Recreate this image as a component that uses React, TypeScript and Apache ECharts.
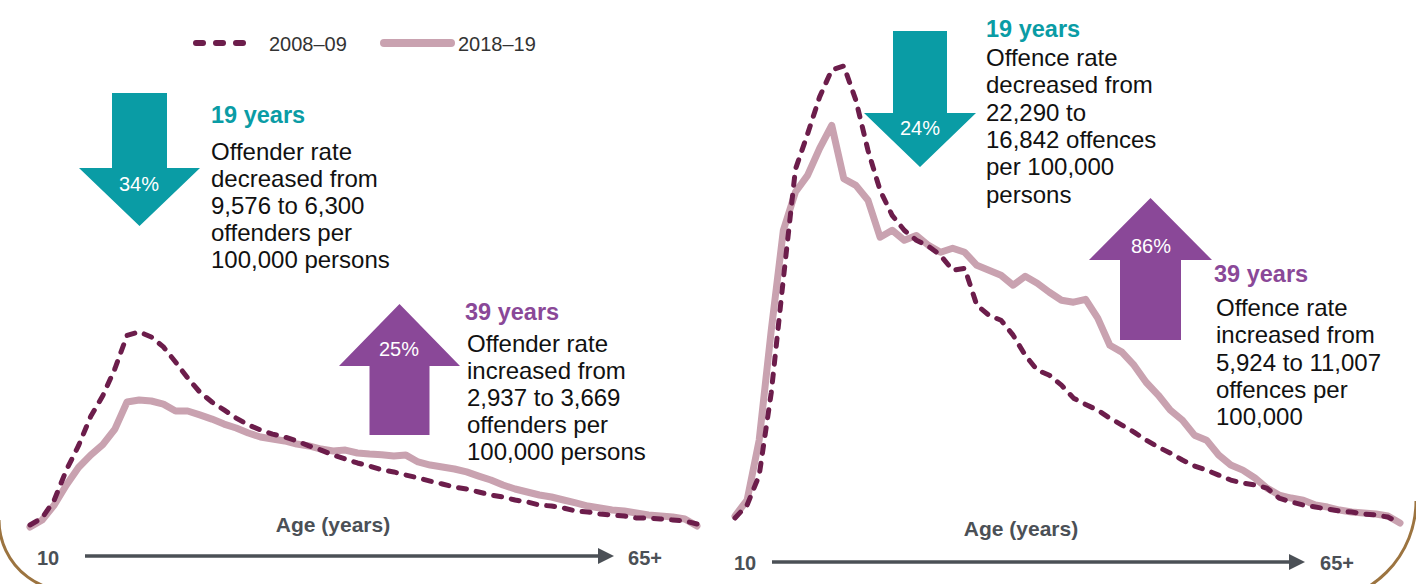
import { useEffect, useRef } from 'react';
import * as echarts from 'echarts';

// ---------- data ----------
const ages = [
  '10', '11', '12', '13', '14', '15', '16', '17', '18', '19',
  '20', '21', '22', '23', '24', '25', '26', '27', '28', '29',
  '30', '31', '32', '33', '34', '35', '36', '37', '38', '39',
  '40', '41', '42', '43', '44', '45', '46', '47', '48', '49',
  '50', '51', '52', '53', '54', '55', '56', '57', '58', '59',
  '60', '61', '62', '63', '64', '65+',
];

// Offender rate per 100,000 persons
const offenderRate2008 = [
  290, 625, 1490, 2930, 4100, 5500, 6500, 7800, 9400, 9576,
  9330, 8850, 8125, 7355, 6680, 6200, 5820, 5430, 5100, 4855,
  4660, 4520, 4330, 4090, 3890, 3650, 3460, 3270, 3125, 2937,
  2840, 2690, 2550, 2400, 2260, 2115, 2020, 1875, 1730, 1635,
  1490, 1395, 1250, 1200, 1105, 960, 915, 817, 770, 720,
  625, 625, 577, 530, 480, 336,
];
const offenderRate2018 = [
  190, 530, 1250, 2210, 3050, 3650, 4150, 4900, 6200, 6300,
  6250, 6100, 5770, 5770, 5580, 5380, 5140, 4950, 4710, 4520,
  4420, 4330, 4180, 4090, 3940, 3850, 3890, 3750, 3700, 3669,
  3610, 3650, 3320, 3170, 3080, 2980, 2840, 2640, 2450, 2210,
  2020, 1875, 1730, 1635, 1490, 1350, 1200, 1105, 1010, 960,
  865, 770, 720, 675, 577, 240,
];

// Offence rate per 100,000 persons
const offenceRate2008 = [
  435, 1060, 2500, 6500, 12000, 17300, 19000, 20800, 22100, 22290,
  20630, 18210, 16280, 15070, 14350, 13865, 13575, 13140, 12415, 12510,
  10725, 10240, 10000, 9275, 8310, 7585, 7340, 6860, 6230, 5924,
  5650, 5265, 4930, 4590, 4200, 3865, 3575, 3240, 2950, 2750,
  2510, 2270, 2125, 2030, 1880, 1400, 1210, 1060, 965, 870,
  770, 725, 630, 580, 480, 190,
];
const offenceRate2018 = [
  530, 1300, 4200, 9520, 14350, 16200, 17000, 18310, 19420, 16842,
  16520, 15800, 14010, 14350, 13865, 14100, 13620, 13285, 13480, 13285,
  12655, 12415, 12175, 11690, 12125, 11790, 11350, 10965, 10870, 11007,
  10100, 8790, 8455, 7825, 7000, 6380, 5650, 5170, 4440, 4200,
  3480, 3000, 2750, 2370, 1880, 1545, 1400, 1300, 1060, 965,
  820, 725, 675, 630, 530, 190,
];

const seriesNames = ['2008–09', '2018–19'];
const axisEndLabels = ['10', '65+'];
const axisTitle = 'Age (years)';
const percentLabels = ['34%', '25%', '24%', '86%'];
const headlineLabels = ['19 years', '39 years', '19 years', '39 years'];
const bodyTexts = [
  'Offender rate\ndecreased from\n9,576 to 6,300\noffenders per\n100,000 persons',
  'Offender rate\nincreased from\n2,937 to 3,669\noffenders per\n100,000 persons',
  'Offence rate\ndecreased from\n22,290 to\n16,842 offences\nper 100,000\npersons',
  'Offence rate\nincreased from\n5,924 to 11,007\noffences per\n100,000',
];

// ---------- style ----------
const FONT = "'Liberation Sans', Arial, Helvetica, sans-serif";
const MAROON = '#6c1d4b';
const PINK = '#c9a2b0';
const TEAL = '#0a9ca5';
const PURPLE = '#8a4898';
const GREY = '#4b5056';
const BROWN = '#9c7440';

function txt(text: string, x: number, y: number, size: number, color: string, opts: any = {}) {
  return {
    type: 'text',
    x,
    y,
    silent: true,
    style: {
      text,
      fill: color,
      font: `${opts.bold ? 'bold ' : ''}${size}px ${FONT}`,
      align: opts.align || 'left',
      verticalAlign: opts.valign || 'middle',
      lineHeight: opts.lineHeight || size * 1.2,
    },
  };
}

function downArrow(cx: number, top: number, shaftHalf: number, neckY: number, headHalf: number, tipY: number, color: string) {
  return {
    type: 'polygon',
    silent: true,
    shape: {
      points: [
        [cx - shaftHalf, top], [cx + shaftHalf, top], [cx + shaftHalf, neckY],
        [cx + headHalf, neckY], [cx, tipY], [cx - headHalf, neckY], [cx - shaftHalf, neckY],
      ],
    },
    style: { fill: color },
  };
}

function upArrow(cx: number, tipY: number, neckY: number, headHalf: number, shaftHalf: number, bottom: number, color: string) {
  return {
    type: 'polygon',
    silent: true,
    shape: {
      points: [
        [cx, tipY], [cx + headHalf, neckY], [cx + shaftHalf, neckY], [cx + shaftHalf, bottom],
        [cx - shaftHalf, bottom], [cx - shaftHalf, neckY], [cx - headHalf, neckY],
      ],
    },
    style: { fill: color },
  };
}

function axisArrow(x1: number, x2: number, y: number) {
  return [
    { type: 'line', silent: true, shape: { x1, y1: y, x2: x2 - 10, y2: y }, style: { stroke: GREY, lineWidth: 3.5 } },
    { type: 'polygon', silent: true, shape: { points: [[x2 - 16, y - 8], [x2, y], [x2 - 16, y + 8]] }, style: { fill: GREY } },
  ];
}

function legendDash(x1: number, x2: number) {
  return { type: 'line', silent: true, shape: { x1, y1: 43, x2, y2: 43 }, style: { stroke: MAROON, lineWidth: 6, lineCap: 'round' } };
}

export default function App() {
  const ref = useRef<HTMLDivElement>(null);

  useEffect(() => {
    document.body.style.margin = '0';
    const chart = echarts.init(ref.current!, null, { renderer: 'svg' });

    const solidStyle = { color: PINK, width: 7, cap: 'round', join: 'round' };
    const dashStyle = { color: MAROON, width: 5, type: [8, 10], cap: 'round', join: 'round' };

    const option: any = {
      animation: false,
      backgroundColor: '#ffffff',
      grid: [
        { left: 30, top: 323, width: 667, height: 208 },
        { left: 735, top: 10, width: 665, height: 517 },
      ],
      xAxis: [
        { gridIndex: 0, type: 'category', data: ages, boundaryGap: false, show: false },
        { gridIndex: 1, type: 'category', data: ages, boundaryGap: false, show: false },
      ],
      yAxis: [
        { gridIndex: 0, type: 'value', min: 0, max: 10000, show: false, splitLine: { show: false } },
        { gridIndex: 1, type: 'value', min: 0, max: 25000, show: false, splitLine: { show: false } },
      ],
      series: [
        { name: seriesNames[1], type: 'line', xAxisIndex: 0, yAxisIndex: 0, data: offenderRate2018, symbol: 'none', lineStyle: solidStyle, silent: true, clip: false, z: 2 },
        { name: seriesNames[0], type: 'line', xAxisIndex: 0, yAxisIndex: 0, data: offenderRate2008, symbol: 'none', lineStyle: dashStyle, silent: true, clip: false, z: 3 },
        { name: seriesNames[1], type: 'line', xAxisIndex: 1, yAxisIndex: 1, data: offenceRate2018, symbol: 'none', lineStyle: solidStyle, silent: true, clip: false, z: 2 },
        { name: seriesNames[0], type: 'line', xAxisIndex: 1, yAxisIndex: 1, data: offenceRate2008, symbol: 'none', lineStyle: dashStyle, silent: true, clip: false, z: 3 },
      ],
      graphic: [
        // legend
        legendDash(196, 203),
        legendDash(216, 223),
        legendDash(236, 243),
        txt(seriesNames[0], 269, 44, 20, '#333333'),
        { type: 'line', silent: true, shape: { x1: 384, y1: 43, x2: 451, y2: 43 }, style: { stroke: PINK, lineWidth: 8, lineCap: 'round' } },
        txt(seriesNames[1], 458, 44, 20, '#333333'),

        // left panel arrows and notes
        downArrow(139.5, 93, 27.5, 168, 60.5, 226, TEAL),
        txt(percentLabels[0], 139, 184, 20, '#ffffff', { align: 'center' }),
        txt(headlineLabels[0], 211, 115, 23.5, TEAL, { bold: true }),
        txt(bodyTexts[0], 211, 137.5, 24, '#111111', { valign: 'top', lineHeight: 27 }),

        upArrow(399.5, 304, 366, 60.5, 30, 435, PURPLE),
        txt(percentLabels[1], 399, 349, 20, '#ffffff', { align: 'center' }),
        txt(headlineLabels[1], 465, 312, 23.5, PURPLE, { bold: true }),
        txt(bodyTexts[1], 467, 329.5, 24, '#111111', { valign: 'top', lineHeight: 27 }),

        // right panel arrows and notes
        downArrow(920, 31, 27, 113, 56, 167, TEAL),
        txt(percentLabels[2], 920, 128, 20, '#ffffff', { align: 'center' }),
        txt(headlineLabels[2], 986, 29, 23.5, TEAL, { bold: true }),
        txt(bodyTexts[2], 986, 43.5, 24, '#111111', { valign: 'top', lineHeight: 27.4 }),

        upArrow(1150.5, 198, 260, 61.5, 30.5, 340, PURPLE),
        txt(percentLabels[3], 1151, 246, 20, '#ffffff', { align: 'center' }),
        txt(headlineLabels[3], 1214, 274, 23.5, PURPLE, { bold: true }),
        txt(bodyTexts[3], 1216, 293.5, 24, '#111111', { valign: 'top', lineHeight: 27.4 }),

        // bottom axes
        txt(axisTitle, 333, 524, 21, GREY, { bold: true, align: 'center' }),
        txt(axisEndLabels[0], 48, 558, 20, GREY, { bold: true, align: 'center' }),
        txt(axisEndLabels[1], 645, 558, 20, GREY, { bold: true, align: 'center' }),
        ...axisArrow(85, 614, 556),

        txt(axisTitle, 1021, 528, 21, GREY, { bold: true, align: 'center' }),
        txt(axisEndLabels[0], 745, 563, 20, GREY, { bold: true, align: 'center' }),
        txt(axisEndLabels[1], 1337, 563, 20, GREY, { bold: true, align: 'center' }),
        ...axisArrow(772, 1305, 562),

        // decorative frame corners
        { type: 'arc', silent: true, shape: { cx: 70, cy: 520, r: 71, startAngle: Math.PI / 2 - 0.3, endAngle: Math.PI, clockwise: true }, style: { stroke: BROWN, lineWidth: 3, fill: 'none' } },
        { type: 'arc', silent: true, shape: { cx: 1315, cy: 501, r: 101, startAngle: 0, endAngle: Math.PI / 2, clockwise: true }, style: { stroke: BROWN, lineWidth: 3, fill: 'none' } },
      ],
    };

    chart.setOption(option);
    return () => chart.dispose();
  }, []);

  return (
    <div
      ref={ref}
      style={{ position: 'absolute', left: 0, top: 0, width: 1416, height: 584, background: '#fff' }}
    />
  );
}
